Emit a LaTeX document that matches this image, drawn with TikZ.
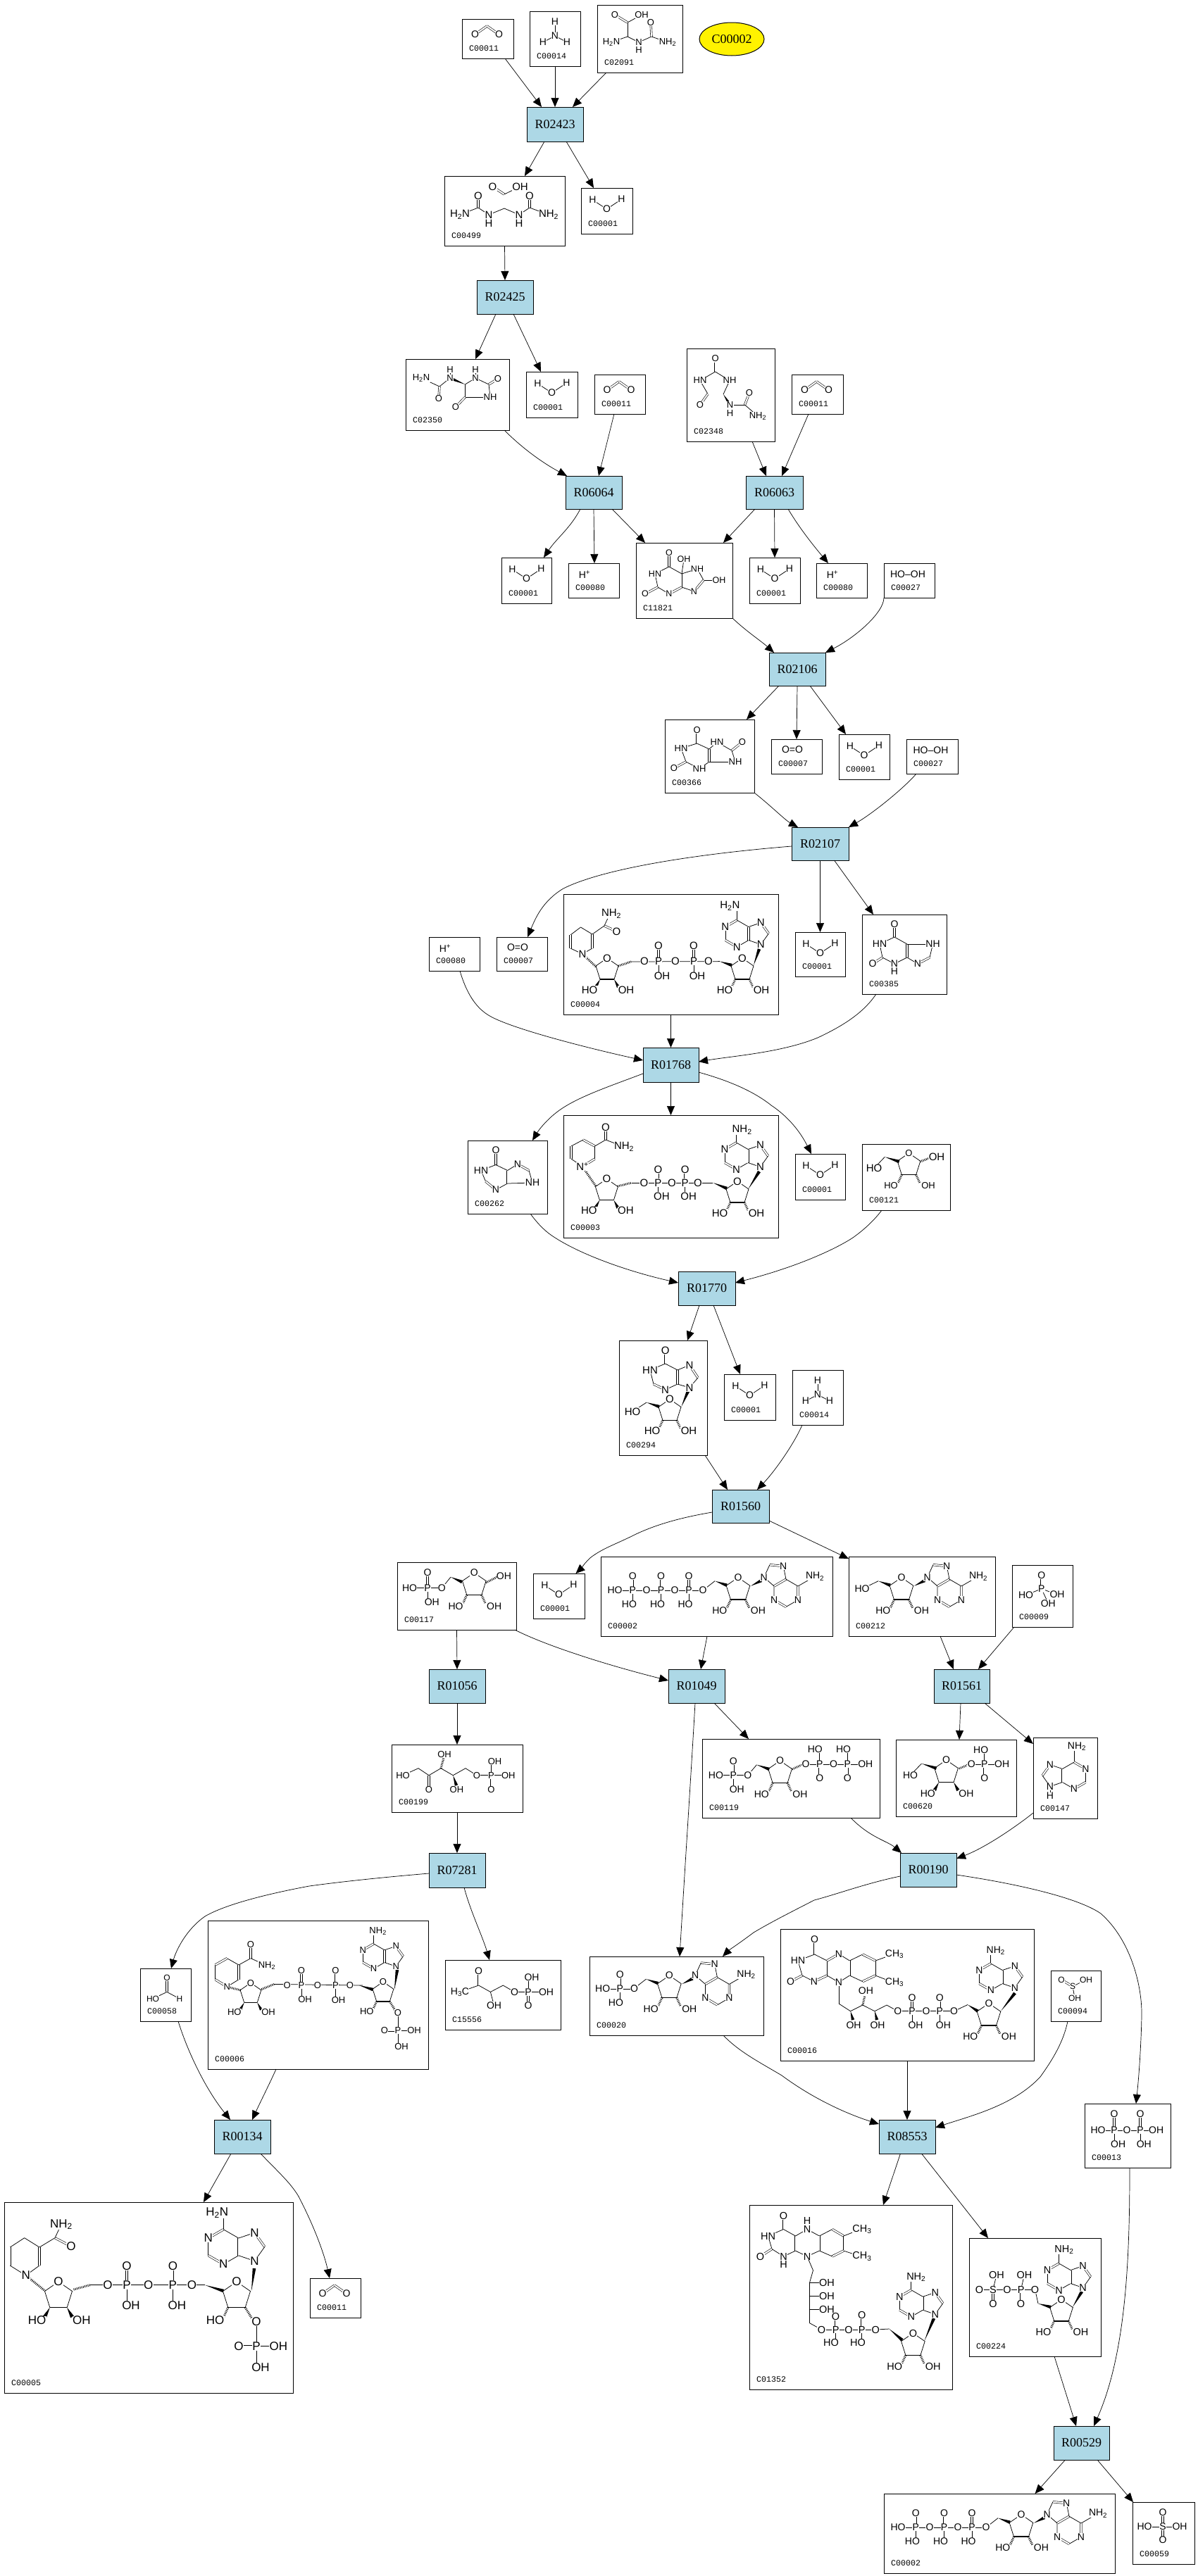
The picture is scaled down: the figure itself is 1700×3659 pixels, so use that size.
\documentclass[tikz,border=0pt]{standalone}
\usepackage{fontspec}
\setmainfont{Liberation Sans}
\newfontfamily\monof{Liberation Mono}
\newfontfamily\serf{Liberation Serif}
\usetikzlibrary{arrows.meta,calc,shapes.geometric}
\newcounter{atomc}
\newcommand\af{\fontsize{14pt}{14pt}\selectfont}
\newcommand\setaf[1]{\renewcommand\af{\fontsize{#1pt}{#1pt}\selectfont}}
\tikzset{
 cbox/.style={draw=black,line width=1pt,fill=white,inner sep=0pt,outer sep=0pt},
 rbox/.style={draw=black,line width=1pt,fill=rxnblue,inner sep=0pt,outer sep=0pt,font=\serf\fontsize{18pt}{18pt}\selectfont},
 clab/.style={anchor=west,inner sep=0pt,font=\monof\fontsize{11.6pt}{12pt}\selectfont},
 atom/.style={fill=white,inner sep=.4pt,text=black},
 bond/.style={line width=.75pt,black},
 dbond/.style={line width=.6pt,double=white,double distance=2pt,black},
 hashb/.style={line width=3pt,dash pattern=on .9pt off 1.4pt,black},
 lk/.style={line width=.7pt,black,-{Triangle[length=13pt,width=11pt]}}
}
\definecolor{rxnblue}{HTML}{ADD8E6}
\def\atm(#1,#2)#3{\stepcounter{atomc}\node[atom] (at\arabic{atomc}) at (#1,#2) {\af #3};}
\def\bB(#1)(#2){\draw[bond] (#1)--(#2);}
\def\bD(#1)(#2){\draw[dbond] (#1)--(#2);}
\def\bH(#1)(#2){\draw[hashb] (#1)--(#2);}
\def\bW(#1)(#2){\fill[black] (#1) -- ($(#2)!2.3pt!90:(#1)$) -- ($(#2)!2.3pt!-90:(#1)$) -- cycle;}
\newcommand\nhb{NH\textsubscript{2}}
\newcommand\hbn{H\textsubscript{2}N}
\newcommand\chb{CH\textsubscript{3}}
\newcommand\hbc{H\textsubscript{3}C}
% boxes
\newcommand\cmpd[6]{\pgfmathsetmacro\bxw{#4-#2}\pgfmathsetmacro\bxh{#5-#3}\pgfmathsetmacro\bxx{(#2+#4)/2}\pgfmathsetmacro\bxy{(#3+#5)/2}\pgfmathsetmacro\bxl{#2+10}\pgfmathsetmacro\bxb{#5-14}%
 \node[cbox,minimum width=\bxw pt,minimum height=\bxh pt] (#1) at (\bxx,\bxy) {};
 \node[clab] (#1lab) at (\bxl,\bxb) {#6};}
\newcommand\rxn[5]{\pgfmathsetmacro\bxw{#4-#2}\pgfmathsetmacro\bxh{#5-#3}\pgfmathsetmacro\bxx{(#2+#4)/2}\pgfmathsetmacro\bxy{(#3+#5)/2}%
 \node[rbox,minimum width=\bxw pt,minimum height=\bxh pt] (#1) at (\bxx,\bxy) {#1};}
% small molecules placed from the top centre of their box
\newcommand\wat[1]{\setaf{14}\begin{scope}[shift={(#1.north)}]\bB(0,30)(-20,17)\bB(0,30)(21,16)\atm(0,30){O}\atm(-20,17){H}\atm(21,16){H}\end{scope}}
\newcommand\coo[1]{\setaf{14}\begin{scope}[shift={(#1.north)}]\bD(-1,10)(-18,22)\bD(-1,10)(16,22)\atm(-18,22){O}\atm(16,22){O}\end{scope}}
\newcommand\amm[1]{\setaf{14}\begin{scope}[shift={(#1.north)}]\bB(0,35)(0,15)\bB(0,35)(-17,44)\bB(0,35)(17,44)\atm(0,35){N}\atm(0,15){H}\atm(-17,44){H}\atm(17,44){H}\end{scope}}
\newcommand\hpl[1]{\setaf{14}\begin{scope}[shift={(#1.north)}]\atm(-13,16){H\textsuperscript{+}}\end{scope}}
\newcommand\oxy[1]{\setaf{14}\begin{scope}[shift={(#1.north)}]\atm(-6,15){O=O}\end{scope}}
\newcommand\hooh[1]{\setaf{14}\begin{scope}[shift={(#1.north)}]\atm(-2,16){HO--OH}\end{scope}}
% ribose rings; O at the local origin
\newcommand\ribbase{\draw[bond] (0,0)--(16,11)--(10,30); \draw[bond] (-10,30)--(-16,11)--(0,0); \draw[line width=1.5pt] (-10,30)--(10,30);}
\newcommand\ribH[3]{\begin{scope}[shift={(#1,#2)},scale=#3]\ribbase\bH(-10,30)(-15,41)\bH(10,30)(15,41)\atm(0,0){O}\atm(-25,45){HO}\atm(27,45){OH}\end{scope}}
\newcommand\ribW[3]{\begin{scope}[shift={(#1,#2)},scale=#3]\ribbase\bW(-10,30)(-16,41)\bW(10,30)(16,41)\atm(0,0){O}\atm(-25,45){HO}\atm(27,45){OH}\end{scope}}
\newcommand\ribX[3]{\begin{scope}[shift={(#1,#2)},scale=#3]\ribbase\bH(-10,30)(-15,41)\bH(10,30)(18,43)\atm(0,0){O}\atm(-25,45){HO}\end{scope}}
% adenine ring system; C6 at the local origin
\newcommand\adecore[2]{\bB(0,0)(0,-19)\bD(0,0)(-16.5,9.5)\bB(-16.5,9.5)(-16.5,28.5)\bD(-16.5,28.5)(0,38)\bB(0,38)(16.5,28.5)\bD(16.5,28.5)(16.5,9.5)\bB(16.5,9.5)(0,0)\bB(16.5,9.5)(34,3.6)\bD(34,3.6)(45,19)\bB(45,19)(34,34.5)\bB(34,34.5)(16.5,28.5)\atm(-16.5,9.5){N}\atm(0,38){N}\atm(34,3.6){N}\atm(34,34.5){N}\atm(#1){#2}}
\newcommand\adeU[5]{\begin{scope}[shift={(#1,#2)},scale=#3]\adecore{#4}{#5}\end{scope}}
\newcommand\adeR[3]{\begin{scope}[shift={(#1,#2)},rotate=-60,xscale=-1,scale=#3]\adecore{0,-27}{\nhb}\end{scope}}
% phosphate: x y up-distance lower-dx lower-dy lower-text
\newcommand\pgrp[6]{\bD(#1,#2)(#1,#2-#3)\bB(#1,#2)(#1,#2+#5)\atm(#1,#2){P}\atm(#1,#2-#3){O}\atm(#1+#4,#2+#5){#6}}
% adenosine part in the position it has in the upper C00002 box
\newcommand\adoATP{\bW(1015,2245.7)(1032,2251.7)\bW(1066,2252.7)(1081,2245)\ribH{1048}{2240.7}{1.05}\adeR{1133}{2253}{1.03}}
\newcommand\atpmol{\setaf{14}\bB(873,2259)(998,2259)\bB(998,2259)(1015,2245.7)%
 \pgrp{898.4}{2259}{20}{-5}{20}{HO}\pgrp{938.6}{2259}{20}{-5}{20}{HO}\pgrp{978}{2259}{20}{-5}{20}{HO}%
 \atm(873,2259){HO}\atm(918,2259){O}\atm(958,2259){O}\atm(998,2259){O}\adoATP}
\begin{document}
\begin{tikzpicture}[x=1pt,y=-1pt]
\useasboundingbox (0,0) rectangle (1700,3659);
\fill[white] (0,0) rectangle (1700,3659);
% ---------- reactions
\rxn{R02423}{748}{152}{828}{201}
\rxn{R02425}{677}{398}{757}{446}
\rxn{R06064}{803}{676}{883}{723}
\rxn{R06063}{1059}{676}{1140}{723}
\rxn{R02106}{1092}{927}{1172}{974}
\rxn{R02107}{1124}{1175}{1205}{1222}
\rxn{R01768}{913}{1488}{992}{1537}
\rxn{R01770}{963}{1806}{1044}{1854}
\rxn{R01560}{1011}{2116}{1092}{2163}
\rxn{R01056}{609}{2371}{689}{2419}
\rxn{R01049}{949}{2371}{1029}{2419}
\rxn{R01561}{1326}{2371}{1405}{2419}
\rxn{R07281}{609}{2632}{689}{2681}
\rxn{R00190}{1278}{2632}{1358}{2680}
\rxn{R00134}{304}{3011}{384}{3059}
\rxn{R08553}{1248}{3011}{1328}{3059}
\rxn{R00529}{1496}{3446}{1575}{3494}
\node[ellipse,draw=black,line width=1pt,fill=yellow,inner sep=0pt,minimum width=92pt,minimum height=47pt,font=\serf\fontsize{18pt}{18pt}\selectfont] (C00002top) at (1039,55.5) {C00002};
% ---------- compounds
\cmpd{C00011a}{656}{27}{729}{83}{C00011}
\cmpd{C00014a}{752}{16}{824}{94}{C00014}
\cmpd{C02091}{848}{7}{969}{103}{C02091}
\cmpd{C00499}{631}{250}{802}{349}{C00499}
\cmpd{C00001a}{825}{267}{898}{332}{C00001}
\cmpd{C02350}{576}{510}{723}{611}{C02350}
\cmpd{C00001b}{747}{528}{820}{593}{C00001}
\cmpd{C00011b}{844}{532}{916}{588}{C00011}
\cmpd{C02348}{975}{495}{1100}{627}{C02348}
\cmpd{C00011c}{1124}{532}{1197}{588}{C00011}
\cmpd{C00001c}{712}{792}{783}{857}{C00001}
\cmpd{C00080a}{807}{800}{879}{849}{C00080}
\cmpd{C11821}{903}{771}{1040}{878}{C11821}
\cmpd{C00001d}{1064}{792}{1136}{857}{C00001}
\cmpd{C00080b}{1159}{800}{1231}{849}{C00080}
\cmpd{C00027a}{1255}{800}{1327}{849}{C00027}
\cmpd{C00366}{944}{1022}{1071}{1126}{C00366}
\cmpd{C00007a}{1095}{1050}{1167}{1099}{C00007}
\cmpd{C00001e}{1191}{1043}{1263}{1107}{C00001}
\cmpd{C00027b}{1287}{1050}{1360}{1099}{C00027}
\cmpd{C00007b}{705}{1331}{777}{1379}{C00007}
\cmpd{C00080c}{609}{1331}{681}{1379}{C00080}
\cmpd{C00004}{800}{1270}{1105}{1441}{C00004}
\cmpd{C00001f}{1129}{1324}{1200}{1387}{C00001}
\cmpd{C00385}{1224}{1299}{1344}{1412}{C00385}
\cmpd{C00262}{664}{1620}{777}{1724}{C00262}
\cmpd{C00003}{800}{1584}{1105}{1758}{C00003}
\cmpd{C00001g}{1129}{1639}{1200}{1704}{C00001}
\cmpd{C00121}{1224}{1625}{1349}{1719}{C00121}
\cmpd{C00294}{879}{1904}{1004}{2067}{C00294}
\cmpd{C00001h}{1028}{1952}{1101}{2017}{C00001}
\cmpd{C00014b}{1125}{1946}{1197}{2024}{C00014}
\cmpd{C00117}{564}{2219}{733}{2315}{C00117}
\cmpd{C00001i}{757}{2235}{830}{2299}{C00001}
\cmpd{C00002a}{853}{2211}{1182}{2324}{C00002}
\cmpd{C00212}{1205}{2211}{1413}{2324}{C00212}
\cmpd{C00009}{1437}{2223}{1523}{2311}{C00009}
\cmpd{C00199}{556}{2478}{742}{2574}{C00199}
\cmpd{C00119}{997}{2470}{1249}{2582}{C00119}
\cmpd{C00620}{1272}{2471}{1443}{2580}{C00620}
\cmpd{C00147}{1467}{2468}{1558}{2583}{C00147}
\cmpd{C00058}{199}{2796}{271}{2871}{C00058}
\cmpd{C00006}{295}{2728}{608}{2939}{C00006}
\cmpd{C15556}{632}{2784}{796}{2883}{C15556}
\cmpd{C00020}{837}{2779}{1084}{2891}{C00020}
\cmpd{C00016}{1108}{2740}{1468}{2927}{C00016}
\cmpd{C00094}{1492}{2799}{1563}{2871}{C00094}
\cmpd{C00013}{1540}{2988}{1662}{3079}{C00013}
\cmpd{C00005}{6}{3128}{416}{3399}{C00005}
\cmpd{C00011d}{440}{3236}{512}{3292}{C00011}
\cmpd{C01352}{1064}{3132}{1352}{3394}{C01352}
\cmpd{C00224}{1376}{3179}{1563}{3347}{C00224}
\cmpd{C00002b}{1255}{3542}{1583}{3655}{C00002}
\cmpd{C00059}{1608}{3554}{1696}{3642}{C00059}
% ---------- small repeating molecules
\coo{C00011a}\coo{C00011b}\coo{C00011c}\coo{C00011d}
\amm{C00014a}\amm{C00014b}
\wat{C00001a}\wat{C00001b}\wat{C00001c}\wat{C00001d}\wat{C00001e}\wat{C00001f}\wat{C00001g}\wat{C00001h}\wat{C00001i}
\hpl{C00080a}\hpl{C00080b}\hpl{C00080c}
\oxy{C00007a}\oxy{C00007b}
\hooh{C00027a}\hooh{C00027b}
% ---------- C02091
\setaf{13}
\bB(891,32)(911,21)\bD(891,32)(873,21)\bB(891,32)(891,52)\bB(891,52)(868,60)\bB(891,52)(907,60)\bB(907,60)(925,52)\bD(925,52)(924,32)\bB(925,52)(948,60)
\atm(873,21){O}\atm(911,21){OH}\atm(868,60){\hbn}\atm(907,60){N}\atm(907,71){H}\atm(924,32){O}\atm(948,60){\nhb}
% ---------- C00499
\setaf{15}
\bD(716,276)(699.5,265)\bB(716,276)(738.5,265)\bB(653,305)(679,295)\bD(679,295)(679,278)\bB(679,295)(694,305)\bB(694,305)(716,296)\bB(716,296)(737,305)\bB(737,305)(752,295)\bD(752,295)(752,278)\bB(752,295)(779,305)
\atm(699.5,265){O}\atm(738.5,265){OH}\atm(653,305){\hbn}\atm(679,278){O}\atm(694,305){N}\atm(694,317){H}\atm(737,305){N}\atm(737,317){H}\atm(752,278){O}\atm(779,305){\nhb}
% ---------- C02350
\setaf{13}
\bB(598,537)(624,549)\bD(624,549)(623,564)\bB(624,549)(639,537)\bW(660.5,546)(639,537)\bB(660.5,546)(675,537)\bB(675,537)(694,546)\bD(694,546)(707,538)\bB(694,546)(696,564)\bB(696,564)(660.5,564)\bB(660.5,564)(660.5,546)\bD(660.5,564)(647,578)\bB(639,537)(639,525)\bB(675,537)(675,525)
\atm(598,537){\hbn}\atm(623,566){O}\atm(639,537){N}\atm(639,525){H}\atm(675,537){N}\atm(675,525){H}\atm(707,538){O}\atm(696,564){NH}\atm(647,578){O}
% ---------- C02348
\bD(1015.6,509.5)(1015.6,528)\bB(1015.6,528)(994,540.5)\bB(1015.6,528)(1036,540.5)\bB(994,540.5)(1005,559.6)\bD(1005,559.6)(994,575)\bB(1036,540.5)(1027,560)\bW(1027,560)(1036.5,575)\bB(1036.5,575)(1057.5,575)\bD(1057.5,575)(1064,558)\bB(1057.5,575)(1076,591)
\atm(1015.6,509.5){O}\atm(994,540.5){HN}\atm(1036,540.5){NH}\atm(994,575){O}\atm(1036.5,575){N}\atm(1036.5,587){H}\atm(1064,558){O}\atm(1076,591){\nhb}
% ---------- C11821
\setaf{12.5}
\bD(950,785)(950,805)\bB(950,805)(930,815)\bB(930,815)(934,834)\bD(934,834)(916,843.6)\bB(934,834)(950,843.6)\bD(950,843.6)(968,834)\bB(968,834)(968,815)\bB(968,815)(950,805)\bB(968,815)(971,794.6)\bB(968,815)(990,808)\bB(990,808)(999,824)\bB(999,824)(1021,824)\bD(999,824)(985.5,840)\bB(985.5,840)(968,834)
\atm(950,785){O}\atm(930,815){HN}\atm(916,843.6){O}\atm(950,843.6){N}\atm(971,794.6){OH}\atm(990,808){NH}\atm(1021,824){OH}\atm(985.5,840){N}
% ---------- C00366
\setaf{13}
\bD(989.6,1037)(989.6,1056)\bB(989.6,1056)(967,1063)\bB(967,1063)(974,1082)\bD(974,1082)(957,1091)\bB(974,1082)(993,1092)\bB(993,1092)(1007,1082)\bD(1007,1082)(1007,1064)\bB(1007,1064)(989.6,1056)\bB(1007,1064)(1018,1054)\bB(1018,1054)(1039,1066)\bD(1039,1066)(1054,1054)\bB(1039,1066)(1044,1082)\bB(1044,1082)(1007,1082)
\atm(989.6,1037){O}\atm(967,1063){HN}\atm(957,1091){O}\atm(993,1092){NH}\atm(1018,1054){HN}\atm(1054,1054){O}\atm(1044,1082){NH}
% ---------- C00385
\setaf{14}
\bD(1270,1313)(1270,1331)\bB(1270,1331)(1249,1341)\bB(1249,1341)(1253,1360)\bD(1253,1360)(1239,1369)\bB(1253,1360)(1270,1369)\bB(1270,1369)(1288,1360)\bD(1288,1360)(1288,1341)\bB(1288,1341)(1270,1331)\bB(1288,1341)(1324.5,1341)\bB(1324.5,1341)(1320,1360)\bD(1320,1360)(1303,1369)\bB(1303,1369)(1288,1360)
\atm(1270,1313){O}\atm(1249,1341){HN}\atm(1239,1369){O}\atm(1270,1369){N}\atm(1270,1380){H}\atm(1324.5,1341){NH}\atm(1303,1369){N}
% ---------- C00262
\bD(704,1634)(704,1654.5)\bB(704,1654.5)(683,1662.5)\bB(683,1662.5)(689.5,1678)\bD(689.5,1678)(704,1690)\bB(704,1690)(720.6,1681)\bD(720.6,1681)(720.6,1662.5)\bB(720.6,1662.5)(704,1654.5)\bB(720.6,1662.5)(735,1653.6)\bD(735,1653.6)(751,1662.5)\bB(751,1662.5)(756,1680)\bB(756,1680)(720.6,1681)
\atm(704,1634){O}\atm(683,1662.5){HN}\atm(704,1690){N}\atm(735,1653.6){N}\atm(756,1680){NH}
% ---------- C00004
\setaf{15}
\bB(841,1327)(824.5,1317)\bB(824.5,1317)(810,1328)\bD(810,1328)(810,1347)\bB(810,1347)(827,1355)\bB(827,1355)(841,1347)\bD(841,1347)(841,1327)\bB(841,1327)(858,1315)\bD(858,1315)(875.5,1323)\bB(858,1315)(866,1298)
\bH(827,1355)(846,1373)\bH(878,1372)(896,1366)\bB(896,1366)(1022,1365.6)\bW(1022,1365.6)(1039,1371)\bW(1070,1371)(1078,1348)
\atm(827,1355){N}\atm(875.5,1323){O}\atm(868,1298){\nhb}
\ribW{862}{1361}{1}
\pgrp{935}{1365.6}{22}{5}{21}{OH}\pgrp{985}{1365.6}{22}{5}{21}{OH}
\atm(915,1365.6){O}\atm(959,1365.6){O}\atm(1006,1365.6){O}
\ribH{1054}{1361}{1}
\adeU{1046.4}{1307}{1}{-10,-20}{\hbn}
% ---------- C00003
\bD(844.6,1628)(828,1619)\bB(828,1619)(811,1628)\bD(811,1628)(811,1646)\bB(811,1646)(827,1657)\bD(827,1657)(844.6,1646)\bB(844.6,1646)(844.6,1628)\bB(844.6,1628)(860,1619)\bD(860,1619)(860,1601)\bB(860,1619)(886,1629)
\bH(827,1657)(846,1685)\bH(877,1685)(896.6,1680)\bB(896.6,1680)(1012.4,1680)\bW(1012.4,1680)(1032,1688)\bW(1062.4,1689)(1078,1664)
\atm(827,1657){N\textsuperscript{+}}\atm(860,1601){O}\atm(886,1629){\nhb}
\ribW{861.4}{1674.6}{1}
\pgrp{934.4}{1680}{19}{5}{19}{OH}\pgrp{972.7}{1680}{19}{5}{19}{OH}
\atm(914.5,1680){O}\atm(954,1680){O}\atm(991,1680){O}
\ribH{1047}{1678}{1}
\adeU{1045.6}{1623}{1}{8,-18}{\nhb}
% ---------- C00294
\bD(944.6,1918)(944.6,1937)\bB(944.6,1937)(923,1946)\bB(923,1946)(928,1966)\bD(928,1966)(944.6,1974)\bB(944.6,1974)(962,1966)\bD(962,1966)(962,1946)\bB(962,1946)(944.6,1937)\bB(962,1946)(979,1939)\bD(979,1939)(991,1957)\bB(991,1957)(979,1971)\bB(979,1971)(962,1966)
\bW(918,1992)(936,1998)\bB(918,1992)(898,2005)\bW(967.5,1998)(977,1976)
\atm(944.6,1918){O}\atm(923,1946){HN}\atm(944.6,1974){N}\atm(979,1939){N}\atm(979,1971){N}\atm(898,2005){HO}
\ribH{951}{1987.5}{1}
% ---------- C00121
\bW(1256.3,1643.3)(1276.7,1650)\bB(1256.3,1643.3)(1241,1659.4)\bH(1306.3,1650)(1322,1644)
\atm(1241,1659.4){HO}\atm(1330,1643.3){OH}
\setaf{13}\ribH{1290.5}{1638}{1.02}
% ---------- C00117
\setaf{14}
\bB(581.5,2255.7)(627.4,2255.7)\bB(627.4,2255.7)(640,2240)\bW(640,2240)(656,2247)\bD(607,2255.7)(607,2234)\bB(607,2255.7)(607,2276)\bH(690,2248)(706,2240)
\atm(607,2255.7){P}\atm(607,2234){O}\atm(581.5,2255.7){HO}\atm(613.3,2276){OH}\atm(627.4,2255.7){O}\atm(715.4,2239){OH}
\ribH{673.3}{2234}{1.05}
% ---------- C00002 (twice)
\atpmol
\begin{scope}[shift={(402,1331)}]\atpmol\end{scope}
% ---------- C00212
\begin{scope}[shift={(232,0)}]\setaf{14}\bB(992,2257)(1015,2245.7)\atm(992,2257){HO}\adoATP\end{scope}
% ---------- C00020
\begin{scope}[shift={(-97.6,565.4)}]\setaf{14}\bB(1015,2245.7)(998,2259)\atm(998,2259){O}\adoATP\end{scope}
\bB(855.7,2825)(900.5,2825)\pgrp{880.4}{2825}{20}{-6}{20}{HO}\atm(855.7,2825){HO}\atm(900.5,2825){O}
% ---------- C00009
\bD(1478.8,2256.7)(1478.8,2238)\bB(1478.8,2256.7)(1456.5,2265.7)\bB(1478.8,2256.7)(1501,2265)\bB(1478.8,2256.7)(1488.3,2277.3)
\atm(1478.8,2238){O}\atm(1478.8,2256.7){P}\atm(1456.5,2265.7){HO}\atm(1501,2265){OH}\atm(1488.3,2277.3){OH}
% ---------- C00199
\setaf{13}
\bB(572,2521.7)(594,2511.7)\bB(594,2511.7)(609,2521.7)\bD(609,2521.7)(609,2541.7)\bB(609,2521.7)(626,2511.7)\bH(626,2511.7)(630,2497)\bB(626,2511.7)(643.3,2521.7)\bW(643.3,2521.7)(648,2536)\bB(643.3,2521.7)(661,2511.7)\bB(661,2511.7)(677,2521.7)\bB(677,2521.7)(721.8,2521.7)\bB(697.5,2521.7)(697.5,2501.7)\bD(697.5,2521.7)(697.5,2541.7)
\atm(572,2521.7){HO}\atm(609,2541.7){O}\atm(631,2491.7){OH}\atm(648.4,2541.7){OH}\atm(677,2521.7){O}\atm(697.5,2521.7){P}\atm(702.6,2501.7){OH}\atm(721.8,2521.7){OH}\atm(697.5,2541.7){O}
% ---------- C00119
\setaf{14}
\bB(1016.4,2521.7)(1061.7,2521.7)\bB(1061.7,2521.7)(1074.4,2506.7)\bW(1074.4,2506.7)(1092.3,2513)\bH(1124.8,2513)(1138,2507)\bB(1144,2506)(1228.8,2506)
\pgrp{1041.3}{2521.7}{19.7}{5}{20}{OH}
\bB(1163.7,2506)(1163.7,2485)\bD(1163.7,2506)(1163.7,2525.7)\bB(1203.3,2506)(1203.3,2485)\bD(1203.3,2506)(1203.3,2525.7)
\atm(1016.4,2521.7){HO}\atm(1061.7,2521.7){O}\atm(1144,2506){O}\atm(1163.7,2506){P}\atm(1157.3,2485){HO}\atm(1163.7,2525.7){O}\atm(1183.5,2506){O}\atm(1203.3,2506){P}\atm(1197.5,2485){HO}\atm(1203.3,2525.7){O}\atm(1228.8,2506){OH}
\ribH{1107.6}{2501}{1.05}
% ---------- C00620
\bB(1292.5,2521.7)(1308.5,2505)\bW(1308.5,2505)(1329.5,2511.7)\bH(1362,2512)(1374,2507)\bB(1379.3,2506)(1422.6,2506)\bB(1397.8,2506)(1397.8,2486)\bD(1397.8,2506)(1397.8,2525.7)
\atm(1292.5,2521.7){HO}\atm(1379.3,2506){O}\atm(1397.8,2506){P}\atm(1392.7,2486){HO}\atm(1422.6,2506){OH}\atm(1397.8,2525.7){O}
\ribW{1343.6}{2500}{1.05}
% ---------- C00147
\begin{scope}[shift={(1525,2503)},xscale=-1]\adecore{-4,-22}{\nhb}\end{scope}
\bB(1491,2538)(1491,2550)\atm(1491,2538){N}\atm(1491,2551){H}
% ---------- C00058
\setaf{12}
\bD(237,2809)(237,2829.4)\bB(237,2829.4)(217,2839)\bB(237,2829.4)(255,2839)
\atm(237,2809){O}\atm(217,2839){HO}\atm(255,2839){H}
% ---------- C00006
\setaf{13}
\bB(339,2791)(322.4,2781.6)\bD(322.4,2781.6)(305.6,2791)\bB(305.6,2791)(305.6,2811.7)\bD(305.6,2811.7)(322.4,2822)\bB(322.4,2822)(339,2811.7)\bD(339,2811.7)(339,2791)\bB(339,2791)(356,2781.6)\bD(356,2781.6)(356,2762)\bB(356,2781.6)(379,2792)
\bH(322.4,2822)(342,2827)\bH(371.4,2825.6)(389,2818.4)\bB(389,2818.4)(515,2820)\bW(510,2820)(529.6,2826)\bW(560,2826)(564,2798)
\atm(322.4,2822){N}\atm(356,2762){O}\atm(379,2792){\nhb}
\ribW{356}{2816.5}{.93}
\pgrp{428}{2820}{21}{5}{20.4}{OH}\pgrp{476.5}{2820}{21}{4}{21.4}{OH}
\atm(407.6,2820){O}\atm(451,2820){O}\atm(497,2820){O}
\ribX{544}{2815}{.93}
\bB(565,2858.6)(565,2906.5)\bD(546,2884.4)(565,2884.4)\bB(565,2884.4)(588,2884.4)
\atm(565,2858.6){O}\atm(565,2884.4){P}\atm(546,2884.4){O}\atm(588,2884.4){OH}\atm(570,2906.5){OH}
\adeU{530.6}{2761}{.93}{6.5,-19}{\nhb}
% ---------- C15556
\setaf{14}
\bB(653,2829.4)(679.6,2820)\bD(679.6,2820)(679.6,2799.3)\bB(679.6,2820)(696.4,2829.4)\bB(696.4,2829.4)(701.5,2848.6)\bB(696.4,2829.4)(714.3,2820)\bB(714.3,2820)(730.6,2829.4)\bB(730.6,2829.4)(775.5,2829.4)\bB(750,2829.4)(750,2808.9)\bD(750,2829.4)(750,2848.6)
\atm(653,2829.4){\hbc}\atm(679.6,2799.3){O}\atm(701.5,2848.6){OH}\atm(730.6,2829.4){O}\atm(750,2829.4){P}\atm(755,2808.9){OH}\atm(775.5,2829.4){OH}\atm(750,2848.6){O}
% ---------- C00016
\bD(1156.5,2755)(1156.5,2776)\bB(1156.5,2776)(1133,2785)\bB(1133,2785)(1139,2806)\bD(1139,2806)(1122.6,2814.6)\bB(1139,2806)(1156,2814.6)\bD(1156,2814.6)(1174.3,2806)\bB(1174.3,2806)(1174.3,2785)\bB(1174.3,2785)(1156.5,2776)\bD(1174.3,2785)(1191,2775.5)\bB(1191,2775.5)(1206.4,2785)\bB(1206.4,2785)(1224.8,2776)\bD(1224.8,2776)(1243,2785)\bB(1243,2785)(1243,2806)\bD(1243,2806)(1224.8,2814.6)\bB(1224.8,2814.6)(1206.4,2806)\bD(1206.4,2806)(1206.4,2785)\bB(1206.4,2806)(1191,2815.7)\bB(1191,2815.7)(1174.3,2806)\bB(1243,2785)(1268,2776)\bB(1243,2806)(1268,2815.7)
\bB(1191,2815.7)(1191,2846)\bB(1191,2846)(1207.6,2856.7)\bB(1207.6,2856.7)(1224.8,2848)\bB(1224.8,2848)(1242,2856.7)\bB(1242,2856.7)(1259,2848)\bB(1259,2848)(1274.7,2856.7)\bW(1207.6,2856.7)(1211,2869)\bH(1224.8,2848)(1228,2835)\bW(1242,2856.7)(1245,2869)
\bB(1274.7,2856.7)(1354.5,2856.7)\bB(1354.5,2856.7)(1374,2847.5)\bW(1374,2847.5)(1388.4,2856.7)\bW(1421,2856.7)(1441,2831)
\atm(1156.5,2755){O}\atm(1133,2785){HN}\atm(1122.6,2814.6){O}\atm(1156,2814.6){N}\atm(1191,2775.5){N}\atm(1191,2815.7){N}\atm(1270,2776){\chb}\atm(1270,2815.7){\chb}\atm(1212,2877){OH}\atm(1229.4,2828){OH}\atm(1246,2877){OH}
\pgrp{1295}{2856.7}{19.2}{5}{20.3}{OH}\pgrp{1334.4}{2856.7}{19.2}{5}{20.3}{OH}
\atm(1274.7,2856.7){O}\atm(1315,2856.7){O}\atm(1354.5,2856.7){O}
\ribH{1404}{2845.6}{1.05}
\adeU{1406.8}{2789}{1}{7,-18}{\nhb}
% ---------- C00094
\setaf{12}
\bD(1523,2821.5)(1507,2812)\bB(1523,2821.5)(1542,2812)\bB(1523,2821.5)(1526,2838)
\atm(1507,2812){O}\atm(1523,2821.5){S}\atm(1542,2812){OH}\atm(1526,2838){OH}
% ---------- C00013
\setaf{14}
\bB(1559,3026)(1641.6,3026)
\pgrp{1582}{3026}{23}{5.6}{19.4}{OH}\pgrp{1619}{3026}{23}{5.3}{19.4}{OH}
\atm(1559,3026){HO}\atm(1600,3026){O}\atm(1641.6,3026){OH}
% ---------- C00005
\setaf{17}
\bB(56,3192)(34.7,3178.7)\bB(34.7,3178.7)(14.3,3192)\bD(14.3,3192)(14.3,3218)\bB(14.3,3218)(36.7,3232)\bB(36.7,3232)(56,3218)\bD(56,3218)(56,3192)\bB(56,3192)(78,3178.7)\bD(78,3178.7)(101,3190.7)\bB(78,3178.7)(87,3159.6)
\bH(36.7,3232)(64,3254)\bH(104.6,3252)(127.6,3245.7)\bB(127.6,3245.7)(291,3245.7)\bW(291,3245.7)(317.3,3254)\bW(357,3254)(361,3222)
\atm(36.7,3232){N}\atm(101,3190.7){O}\atm(87,3159.6){\nhb}
\ribW{83}{3241}{1.22}
\pgrp{180}{3245.7}{27.3}{6}{28.7}{OH}\pgrp{245.4}{3245.7}{27.3}{6}{28.7}{OH}
\atm(153,3245.7){O}\atm(210.7,3245.7){O}\atm(272.4,3245.7){O}
\ribX{336}{3241}{1.22}
\bB(364,3298)(364,3363)\bD(339,3332.8)(364,3332.8)\bB(364,3332.8)(395.4,3332.8)
\atm(364,3298){O}\atm(364,3332.8){P}\atm(339,3332.8){O}\atm(395.4,3332.8){OH}\atm(370,3363){OH}
\adeU{317.3}{3166.7}{1.3}{-7,-18}{\hbn}
% ---------- C01352
\setaf{14.5}
\bD(1112.5,3147)(1112.5,3166.5)\bB(1112.5,3166.5)(1090.6,3176)\bB(1090.6,3176)(1096,3194.5)\bD(1096,3194.5)(1079.5,3205)\bB(1096,3194.5)(1112.5,3205)\bB(1112.5,3205)(1129.5,3197)\bD(1129.5,3197)(1129.5,3176)\bB(1129.5,3176)(1112.5,3166.5)\bB(1129.5,3176)(1146,3166.5)\bB(1146,3166.5)(1163.4,3176)\bB(1163.4,3176)(1181.7,3166.5)\bD(1181.7,3166.5)(1197.8,3176)\bB(1197.8,3176)(1197.8,3197)\bD(1197.8,3197)(1181.7,3205)\bB(1181.7,3205)(1163.4,3197)\bD(1163.4,3197)(1163.4,3176)\bB(1163.4,3197)(1146,3205)\bB(1146,3205)(1129.5,3197)\bB(1197.8,3176)(1222,3166.5)\bB(1197.8,3197)(1222,3205)
\bB(1146,3205)(1154.5,3224.8)\bB(1154.5,3224.8)(1149.6,3242)\bB(1149.6,3242)(1149.6,3299.7)\bB(1149.6,3242)(1172.3,3242)\bB(1149.6,3261)(1172.3,3261)\bB(1149.6,3280)(1172.3,3280)\bB(1149.6,3299.7)(1166.5,3309)\bB(1166.5,3309)(1243.3,3309)\bB(1243.3,3309)(1262.5,3308)\bW(1262.5,3308)(1281,3323.8)\bW(1312.5,3325)(1326,3293)
\atm(1112.5,3147){O}\atm(1090.6,3176){HN}\atm(1079.5,3205){O}\atm(1112.5,3205){N}\atm(1112.5,3216){H}\atm(1146,3166.5){N}\atm(1146,3154){H}\atm(1146,3205){N}\atm(1224,3166.5){\chb}\atm(1224,3205){\chb}\atm(1174,3242){OH}\atm(1174,3261){OH}\atm(1174,3280){OH}
\pgrp{1186.6}{3309}{18.2}{-6.6}{18.7}{HO}\pgrp{1223.7}{3309}{20.2}{-5.8}{18.7}{HO}
\atm(1166.5,3309){O}\atm(1205,3309){O}\atm(1243.3,3309){O}
\ribH{1296.4}{3314}{1.05}
\adeU{1293.8}{3252.7}{1}{7,-18}{\nhb}
% ---------- C00224
\bB(1390.6,3252)(1469.6,3252)\bB(1469.6,3252)(1474,3272)\bW(1474,3272)(1492,3277)\bW(1523,3277)(1536,3255)
\bD(1410,3252)(1410,3272)\bB(1410,3252)(1415,3231)\bD(1449.6,3252)(1449.6,3272)\bB(1449.6,3252)(1454.5,3231)
\atm(1390.6,3252){O}\atm(1410,3252){S}\atm(1415,3231){OH}\atm(1410,3272){O}\atm(1430,3252){O}\atm(1449.6,3252){P}\atm(1454.5,3231){OH}\atm(1449.6,3272){O}\atm(1469.6,3252){O}
\ribH{1507}{3266.3}{1.02}
\adeU{1503.6}{3215}{1}{7.4,-19.4}{\nhb}
% ---------- C00059
\setaf{14}
\bB(1625,3589)(1675,3589)\bD(1651,3589)(1651,3569)\bD(1651,3589)(1651,3608)
\atm(1651,3589){S}\atm(1651,3569){O}\atm(1651,3608){O}\atm(1625,3589){HO}\atm(1675,3589){OH}
% ---------- connectors
\draw[lk] ([xshift=24.5]C00011a.south) -- ([xshift=-19]R02423.north);
\draw[lk] (C00014a.south) -- (R02423.north);
\draw[lk] ([xshift=-47.5]C02091.south) -- ([xshift=25]R02423.north);
\draw[lk] ([xshift=-15]R02423.south) -- ([xshift=28.5]C00499.north);
\draw[lk] ([xshift=16]R02423.south) -- ([xshift=-18.5]C00001a.north);
\draw[lk] (C00499.south) -- (R02425.north);
\draw[lk] ([xshift=-13]R02425.south) -- ([xshift=25.5]C02350.north);
\draw[lk] ([xshift=12]R02425.south) -- ([xshift=-15.5]C00001b.north);
\draw[lk] ([xshift=66.5]C02350.south) .. controls (745,640) and (775,660) .. ([xshift=-38]R06064.north);
\draw[lk] ([xshift=-8]C00011b.south) -- ([xshift=7]R06064.north);
\draw[lk] ([xshift=30.5]C02348.south) -- ([xshift=-11.5]R06063.north);
\draw[lk] ([xshift=-12.5]C00011c.south) -- ([xshift=10.5]R06063.north);
\draw[lk] ([xshift=-19]R06064.south) .. controls (810,750) and (790,765) .. ([xshift=24.5]C00001c.north);
\draw[lk] (R06064.south) -- ([xshift=1]C00080a.north);
\draw[lk] ([xshift=26]R06064.south) -- ([xshift=-55.5]C11821.north);
\draw[lk] ([xshift=-27.5]R06063.south) -- ([xshift=55.5]C11821.north);
\draw[lk] (R06063.south) -- (C00001d.north);
\draw[lk] ([xshift=19.5]R06063.south) .. controls (1135,750) and (1155,775) .. ([xshift=-19]C00080b.north);
\draw[lk] (C11821.south east) .. controls (1060,897) and (1080,910) .. ([xshift=-33]R02106.north);
\draw[lk] ([xshift=-36]C00027a.south) .. controls (1255,870) and (1215,905) .. (R02106.north east);
\draw[lk] ([xshift=-26]R02106.south) -- ([xshift=52.5]C00366.north);
\draw[lk] (R02106.south) -- (C00007a.north);
\draw[lk] ([xshift=18]R02106.south) -- ([xshift=-26]C00001e.north);
\draw[lk] (C00366.south east) .. controls (1095,1145) and (1115,1165) .. ([xshift=-31.5]R02107.north);
\draw[lk] ([xshift=-22.5]C00027b.south) .. controls (1285,1118) and (1240,1155) .. (R02107.north east);
\draw[lk] ([yshift=-3.5]R02107.west) .. controls (1000,1212) and (860,1232) .. (800,1262) .. controls (770,1280) and (760,1305) .. ([xshift=8]C00007b.north);
\draw[lk] (R02107.south) -- (C00001f.north);
\draw[lk] ([xshift=20]R02107.south) -- ([xshift=-44]C00385.north);
\draw[lk] ([xshift=8]C00080c.south) .. controls (662,1410) and (675,1430) .. (692,1441) .. controls (720,1460) and (840,1490) .. ([yshift=6.5]R01768.west);
\draw[lk] (C00004.south) -- (R01768.north);
\draw[lk] ([xshift=-40]C00385.south) .. controls (1225,1440) and (1195,1458) .. (1161,1474) .. controls (1110,1495) and (1040,1500) .. ([yshift=4.5]R01768.east);
\draw[lk] ([yshift=-12.5]R01768.west) .. controls (860,1545) and (815,1560) .. (789,1581) .. controls (775,1592) and (765,1605) .. ([xshift=35.5]C00262.north);
\draw[lk] (R01768.south) -- (C00003.north);
\draw[lk] ([yshift=-10.5]R01768.east) .. controls (1035,1535) and (1070,1550) .. (1095,1570) .. controls (1125,1590) and (1140,1615) .. ([xshift=-12.5]C00001g.north);
\draw[lk] ([xshift=32.5]C00262.south) .. controls (765,1740) and (775,1750) .. (788,1758) .. controls (830,1785) and (900,1808) .. ([yshift=8]R01770.west);
\draw[lk] ([xshift=-34.5]C00121.south) .. controls (1240,1735) and (1225,1748) .. (1211,1758) .. controls (1185,1775) and (1130,1800) .. ([yshift=8]R01770.east);
\draw[lk] ([xshift=-10.5]R01770.south) -- ([xshift=34.5]C00294.north);
\draw[lk] ([xshift=9.5]R01770.south) -- ([xshift=-13.5]C00001h.north);
\draw[lk] ([xshift=59.5]C00294.south) -- ([xshift=-18.5]R01560.north);
\draw[lk] ([xshift=-22]C00014b.south) .. controls (1128,2050) and (1100,2090) .. ([xshift=23.5]R01560.north);
\draw[lk] ([yshift=-8.5]R01560.west) .. controls (970,2155) and (930,2165) .. (895,2183) .. controls (870,2195) and (855,2200) .. (839,2212) .. controls (830,2220) and (825,2228) .. ([xshift=24]C00001i.north);
\draw[lk] ([yshift=-20.5]R01560.east) -- ([yshift=-3]C00212.north west);
\draw[lk] ([xshift=-13.5]C00002a.south) -- ([xshift=6]R01049.north);
\draw[lk] ([xshift=26]C00212.south) -- ([xshift=-11.5]R01561.north);
\draw[lk] ([xshift=-40]C00009.south) -- ([xshift=23.5]R01561.north);
\draw[lk] (C00117.south) -- (R01056.north);
\draw[lk] ([xshift=82.5]C00117.south) .. controls (770,2335) and (850,2362) .. ([yshift=8]R01049.west);
\draw[lk] (R01056.south) -- (C00199.north);
\draw[lk] (C00199.south) -- (R07281.north);
\draw[lk] ([xshift=-2]R01049.south) .. controls (980,2540) and (972,2660) .. ([xshift=4.5]C00020.north);
\draw[lk] ([xshift=25]R01049.south) -- ([xshift=-60]C00119.north);
\draw[lk] ([xshift=-1.5]R01561.south) -- ([xshift=4.5]C00620.north);
\draw[lk] ([xshift=32.5]R01561.south) -- ([yshift=-9]C00147.north west);
\draw[lk] ([xshift=85]C00119.south) .. controls (1235,2610) and (1260,2615) .. ([xshift=-38]R00190.north);
\draw[lk] ([yshift=-49.5]C00147.west) .. controls (1455,2585) and (1405,2622) .. ([yshift=16]R00190.east);
\draw[lk] ([yshift=-4.5]R07281.west) .. controls (550,2666) and (490,2672) .. (439,2679) .. controls (380,2690) and (320,2705) .. (291,2722) .. controls (265,2740) and (250,2770) .. ([xshift=8]C00058.north);
\draw[lk] ([xshift=10]R07281.south) .. controls (668,2715) and (685,2750) .. ([xshift=-19]C15556.north);
\draw[lk] ([xshift=18]C00058.south) .. controls (265,2910) and (290,2965) .. ([xshift=-17]R00134.north);
\draw[lk] ([xshift=-59.5]C00006.south) .. controls (385,2955) and (370,2985) .. ([xshift=14]R00134.north);
\draw[lk] ([xshift=-16]R00134.south) -- ([xshift=78]C00005.north);
\draw[lk] ([xshift=26]R00134.south) .. controls (395,3085) and (412,3100) .. (423.5,3119) .. controls (445,3160) and (460,3200) .. ([xshift=-8]C00011d.north);
\draw[lk] ([yshift=-9]R00190.west) .. controls (1230,2675) and (1190,2690) .. (1156,2699) .. controls (1125,2715) and (1095,2730) .. (1070,2745) .. controls (1050,2760) and (1035,2770) .. ([xshift=65.5]C00020.north);
\draw[lk] ([yshift=-7]R00190.east) .. controls (1440,2675) and (1530,2695) .. (1563,2718) .. controls (1605,2755) and (1622,2820) .. (1621,2864) .. controls (1620,2910) and (1617,2950) .. ([xshift=12]C00013.north);
\draw[lk] ([xshift=66.5]C00020.south) .. controls (1050,2915) and (1080,2930) .. (1110,2948) .. controls (1160,2985) and (1210,3005) .. ([yshift=18]R08553.west);
\draw[lk] (C00016.south) -- (R08553.north);
\draw[lk] ([xshift=-11.5]C00094.south) .. controls (1510,2900) and (1495,2925) .. (1477,2950) .. controls (1440,2990) and (1380,3005) .. ([yshift=13]R08553.east);
\draw[lk] ([xshift=-9.5]R08553.south) -- ([xshift=46]C01352.north);
\draw[lk] ([xshift=20.5]R08553.south) -- ([xshift=-66.5]C00224.north);
\draw[lk] ([xshift=27.5]C00224.south) -- ([xshift=-7.5]R00529.north);
\draw[lk] ([xshift=3]C00013.south) .. controls (1604,3200) and (1600,3340) .. ([xshift=17.5]R00529.north);
\draw[lk] ([xshift=-23]R00529.south) -- ([xshift=50.6]C00002b.north);
\draw[lk] ([xshift=22.5]R00529.south) -- ([xshift=-43]C00059.north);
\end{tikzpicture}
\end{document}
